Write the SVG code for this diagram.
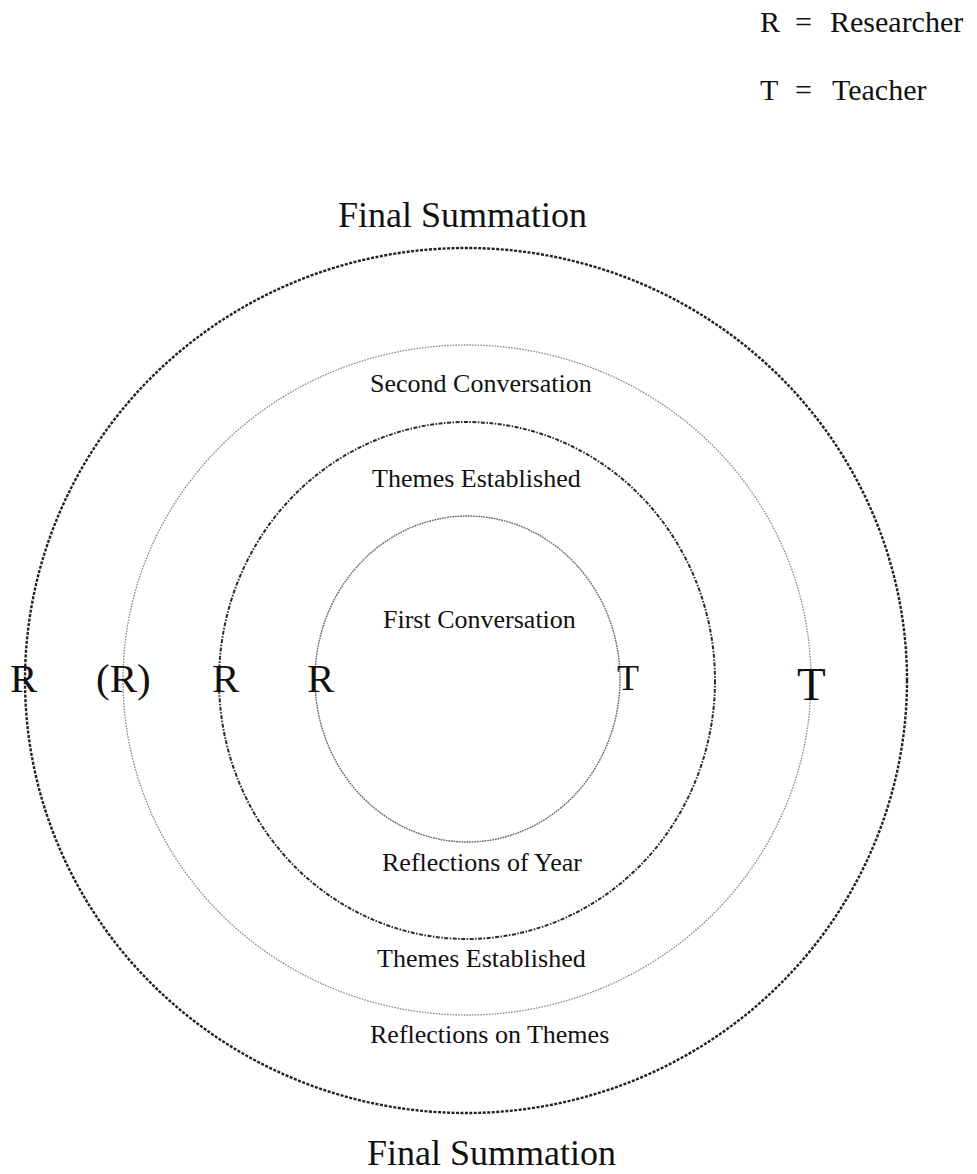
<svg xmlns="http://www.w3.org/2000/svg" width="977" height="1174" viewBox="0 0 977 1174">
<style>
text{font-family:"Liberation Serif","Times New Roman",serif;fill:#111}
.ring{fill:none}
.outer{stroke:#222;stroke-width:2.4;stroke-dasharray:3 1.5}
.second{stroke:#8a8a8a;stroke-width:1.3;stroke-dasharray:1.6 1.2}
.third{stroke:#2a2a2a;stroke-width:2;stroke-dasharray:4 1.5 1.5 1.5}
.inner{stroke:#6a6a6a;stroke-width:1.4;stroke-dasharray:1.8 0.8}
.lbl{font-size:26px}
.big{font-size:36px}
.leg{font-size:30px}
.rr{font-size:41px}
</style>
<rect width="977" height="1174" fill="#fff"/>
<g id="legend">
<text class="leg" x="760" y="32">R</text>
<text class="leg" x="795" y="32">=</text>
<text class="leg" x="830" y="32">Researcher</text>
<text class="leg" x="760" y="100">T</text>
<text class="leg" x="795" y="100">=</text>
<text class="leg" x="832" y="100">Teacher</text>
</g>
<g id="ring-outer">
<ellipse class="ring outer" cx="466" cy="680.5" rx="441" ry="432.5"/>
<text class="big" x="338" y="227">Final Summation</text>
<text class="big" x="367" y="1165">Final Summation</text>
<text class="rr" x="10" y="692">R</text>
</g>
<g id="ring-second">
<ellipse class="ring second" cx="467" cy="680" rx="344" ry="335"/>
<text class="lbl" x="370" y="392">Second Conversation</text>
<text class="lbl" x="370" y="1043">Reflections on Themes</text>
<text class="rr" x="96" y="692">(R)</text>
<text x="797" y="700" style="font-size:47px">T</text>
</g>
<g id="ring-third">
<ellipse class="ring third" cx="467" cy="680.5" rx="248" ry="258.5"/>
<text class="lbl" x="372" y="487">Themes Established</text>
<text class="lbl" x="377" y="967">Themes Established</text>
<text class="rr" x="212" y="692">R</text>
</g>
<g id="ring-inner">
<ellipse class="ring inner" cx="467.5" cy="679" rx="152.5" ry="163"/>
<text class="lbl" x="383" y="628">First Conversation</text>
<text class="lbl" x="382" y="871">Reflections of Year</text>
<text class="rr" x="307" y="692">R</text>
<text x="617" y="690" style="font-size:36px">T</text>
</g>
<g id="connectors"/>
</svg>
